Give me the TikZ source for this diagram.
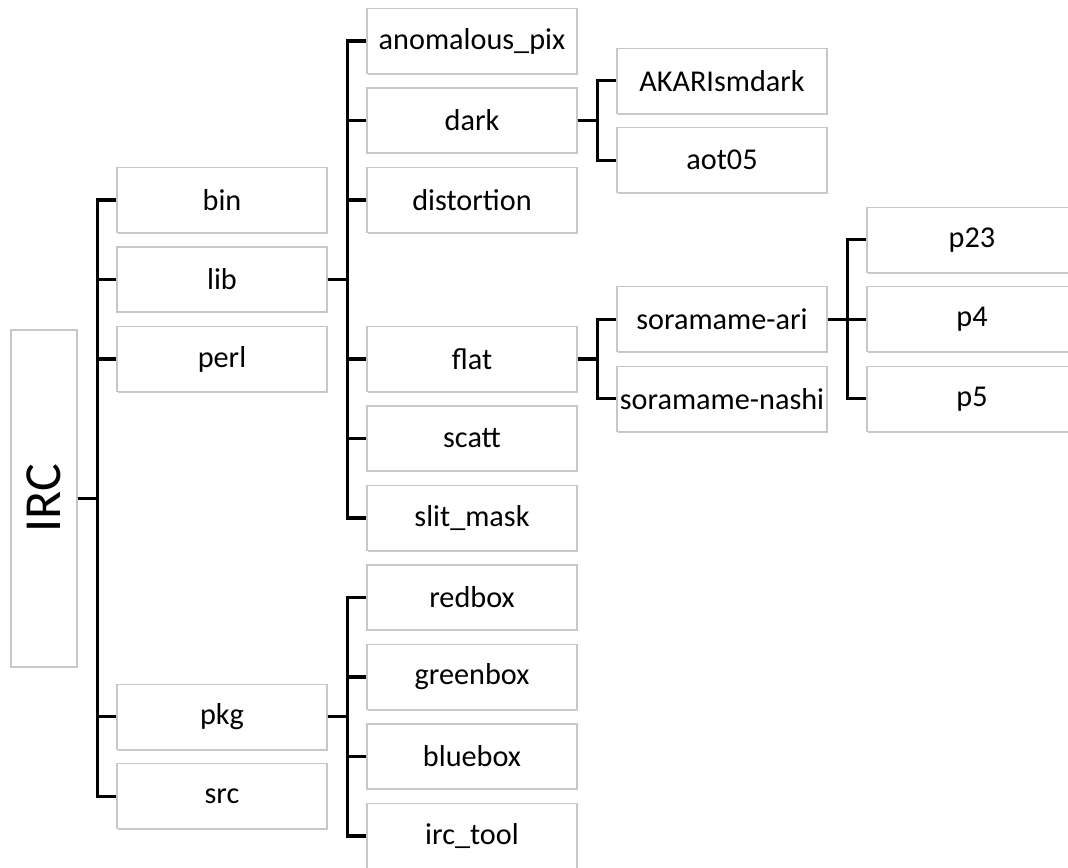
\documentclass[tikz,border=0pt]{standalone}
\usepackage{fontspec}
\setmainfont{Carlito}
\usetikzlibrary{shadows}

\begin{document}
\begin{tikzpicture}[x=0.025cm,y=0.025cm,
  dirbox/.style={draw=black!22, line width=0.8pt, fill=white,
    minimum width=5.25cm, minimum height=1.625cm, inner sep=0pt,
    font=\fontsize{21.5}{25}\selectfont,
    drop shadow={shadow xshift=0.7pt, shadow yshift=-1pt, fill=black!35, opacity=0.6}},
  branch/.style={line width=2.2pt}]

% --- Geometry settings ---
\def\colW{250}        % distance between the columns of boxes
\def\rowH{79.5}       % distance between the rows
\def\yr#1{-41-#1*\rowH}

\useasboundingbox (0,0) rectangle (1068,-868);

% --- Root ---
\node[dirbox, rotate=90, minimum width=8.425cm, minimum height=1.65cm,
  font=\fontsize{37}{40}\selectfont] (irc) at (44,-498.5) {IRC};

% --- First level ---
\node[dirbox] (bin)  at (222,{\yr{2}})   {bin};
\node[dirbox] (lib)  at (222,{\yr{3}})   {lib};
\node[dirbox] (perl) at (222,{\yr{4}})   {perl};
\node[dirbox] (pkg)  at (222,{\yr{8.5}}) {pkg};
\node[dirbox] (src)  at (222,{\yr{9.5}}) {src};

% --- Second level (lib, pkg) ---
\node[dirbox] (anompix)  at ({222+\colW},{\yr{0}})  {anomalous\_pix};
\node[dirbox] (dark)     at ({222+\colW},{\yr{1}})  {dark};
\node[dirbox] (distort)  at ({222+\colW},{\yr{2}})  {distortion};
\node[dirbox] (flat)     at ({222+\colW},{\yr{4}})  {flat};
\node[dirbox] (scatt)    at ({222+\colW},{\yr{5}})  {scatt};
\node[dirbox] (slitmask) at ({222+\colW},{\yr{6}})  {slit\_mask};
\node[dirbox] (redbox)   at ({222+\colW},{\yr{7}})  {redbox};
\node[dirbox] (greenbox) at ({222+\colW},{\yr{8}})  {greenbox};
\node[dirbox] (bluebox)  at ({222+\colW},{\yr{9}})  {bluebox};
\node[dirbox] (irctool)  at ({222+\colW},{\yr{10}}) {irc\_tool};

% --- Third level (dark, flat) ---
\node[dirbox] (akari)   at ({222+2*\colW},{\yr{0.5}}) {AKARIsmdark};
\node[dirbox] (aot)     at ({222+2*\colW},{\yr{1.5}}) {aot05};
\node[dirbox] (sorari)  at ({222+2*\colW},{\yr{3.5}}) {soramame-ari};
\node[dirbox] (sornashi) at ({222+2*\colW},{\yr{4.5}}) {soramame-nashi};

% --- Fourth level (soramame-ari) ---
\node[dirbox] (ptwothree) at ({222+3*\colW},{\yr{2.5}}) {p23};
\node[dirbox] (pfour)     at ({222+3*\colW},{\yr{3.5}}) {p4};
\node[dirbox] (pfive)     at ({222+3*\colW},{\yr{4.5}}) {p5};

% --- Branches ---
\foreach \c in {bin,lib,perl,pkg,src}
  \draw[branch] (irc.south) -- ++(20,0) |- (\c.west);
\foreach \c in {anompix,dark,distort,flat,scatt,slitmask}
  \draw[branch] (lib.east) -- ++(20,0) |- (\c.west);
\foreach \c in {redbox,greenbox,bluebox,irctool}
  \draw[branch] (pkg.east) -- ++(20,0) |- (\c.west);
\foreach \c in {akari,aot}
  \draw[branch] (dark.east) -- ++(20,0) |- (\c.west);
\foreach \c in {sorari,sornashi}
  \draw[branch] (flat.east) -- ++(20,0) |- (\c.west);
\foreach \c in {ptwothree,pfour,pfive}
  \draw[branch] (sorari.east) -- ++(20,0) |- (\c.west);

\end{tikzpicture}
\end{document}
